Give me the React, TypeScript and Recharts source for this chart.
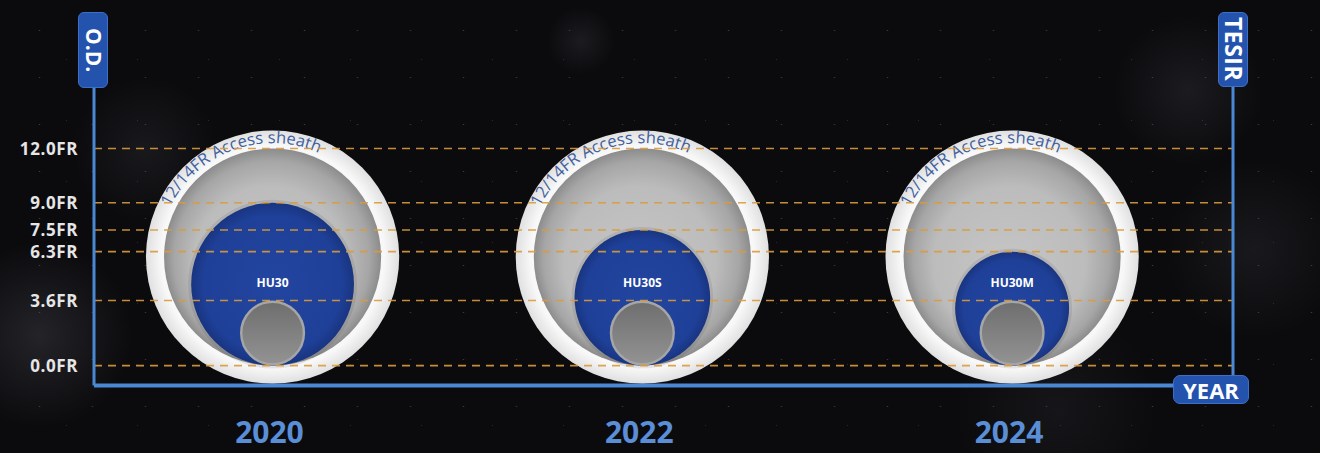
import React from 'react'
import { ComposedChart, Bar, XAxis, YAxis, ReferenceLine } from 'recharts'

// values (French gauge)
const YEARS = ['2020', '2022', '2024']
const SCOPES = ['HU30', 'HU30S', 'HU30M']
const SCOPE_OD = [9.0, 7.5, 6.3]
const SHEATH_ID = [12, 12, 12]
const SHEATH_OD = [14, 14, 14]
const CHANNEL = [3.6, 3.6, 3.6]
const OD_TICKS = [0, 3.6, 6.3, 7.5, 9.0, 12.0]
const TESIR_TICKS = [0, 25, 50, 75, 100]

const data = YEARS.map((year, i) => ({
  year,
  scope: SCOPES[i],
  od: SCOPE_OD[i],
  sheathId: SHEATH_ID[i],
  sheathOd: SHEATH_OD[i],
  channel: CHANNEL[i],
}))

const FONT = '"Open Sans", "Noto Sans", sans-serif'
const AXIS_BLUE = '#4b88d4'
const LABEL_FR = 4.6 // height of the scope name inside the blue disc

function disc(p: any) {
  const top = Math.min(p.y, p.y + p.height)
  const h = Math.abs(p.height)
  return { cx: p.x + p.width / 2, cy: top + h / 2, r: h / 2, bottom: top + h }
}

function RingShape(p: any) {
  const { cx, cy, r } = disc(p)
  const rt = r * 0.9
  const a0 = (206 * Math.PI) / 180
  const a1 = (300 * Math.PI) / 180
  const id = `arc-${p.index}`
  const d = `M ${cx + rt * Math.cos(a0)} ${cy + rt * Math.sin(a0)} A ${rt} ${rt} 0 0 1 ${cx + rt * Math.cos(a1)} ${cy + rt * Math.sin(a1)}`
  return (
    <g>
      <circle cx={cx} cy={cy} r={r} fill="url(#ringGrad)" />
      <path id={id} d={d} fill="none" />
      <text fontSize={16.5} fill="#40609f" fontFamily={FONT}>
        <textPath href={`#${id}`}>12/14FR Access sheath</textPath>
      </text>
    </g>
  )
}

function LumenShape(p: any) {
  const { cx, cy, r } = disc(p)
  return <circle cx={cx} cy={cy} r={r} fill="url(#lumenGrad)" />
}

function ScopeShape(p: any) {
  const { cx, cy, r, bottom } = disc(p)
  const pxPerFR = (2 * r) / p.payload.od
  return (
    <g>
      <circle cx={cx} cy={cy} r={r + 3} fill="rgba(0,0,0,0.08)" />
      <circle cx={cx} cy={cy} r={r} fill="url(#scopeGrad)" />
      <text x={cx} y={bottom - LABEL_FR * pxPerFR} dy="0.35em" textAnchor="middle" fill="#fff" fontSize={12} fontWeight={700} fontFamily={FONT}>
        {p.payload.scope}
      </text>
    </g>
  )
}

function ChannelShape(p: any) {
  const { cx, cy, r } = disc(p)
  return <circle cx={cx} cy={cy} r={r - 1.2} fill="url(#channelGrad)" stroke="#a6a6a6" strokeWidth={2.4} />
}

function YearTick({ x, y, payload }: any) {
  return (
    <text x={x - 3} y={y + 57.5} textAnchor="middle" fill="#5a8ed6" fontSize={30} fontWeight={700} fontFamily={FONT}>
      {payload.value}
    </text>
  )
}

const boxStyle: React.CSSProperties = {
  position: 'absolute',
  background: '#2453ae',
  border: '1.5px solid #3c70c8',
  boxSizing: 'border-box',
  color: '#fff',
  fontFamily: FONT,
  fontWeight: 700,
  display: 'flex',
  alignItems: 'center',
  justifyContent: 'center',
}

const xPad = { left: -6.4, right: 36.1 }

export default function App() {
  return (
    <div
      style={{
        position: 'absolute',
        left: 0,
        top: 0,
        width: 1320,
        height: 453,
        overflow: 'hidden',
        background:
          'radial-gradient(circle at 3% 74%, rgba(150,150,160,0.18), transparent 7%),' +
          'radial-gradient(circle at 11% 33%, rgba(150,150,160,0.10), transparent 6%),' +
          'radial-gradient(circle at 44% 9%, rgba(150,150,160,0.12), transparent 4%),' +
          'radial-gradient(circle at 90% 20%, rgba(150,150,160,0.12), transparent 6%),' +
          'radial-gradient(circle at 95% 55%, rgba(150,150,160,0.10), transparent 7%),' +
          'radial-gradient(circle at 80% 90%, rgba(150,150,160,0.08), transparent 9%),' +
          'radial-gradient(rgba(255,255,255,0.18) 0.6px, transparent 1.1px) 13px 7px/53px 47px,' +
          'radial-gradient(rgba(255,255,255,0.12) 0.5px, transparent 1px) 31px 29px/71px 61px,' +
          '#0b0b0e',
      }}
    >
      <ComposedChart width={1320} height={453} data={data} margin={{ top: 40, right: 0, bottom: 0, left: 0 }}>
        <defs>
          <radialGradient id="ringGrad" cx="50%" cy="50%" r="50%">
            <stop offset="0.88" stopColor="#f8f8f8" />
            <stop offset="1" stopColor="#e0e0e0" />
          </radialGradient>
          <radialGradient id="lumenGrad" cx="50%" cy="50%" r="50%" fx="46%" fy="58%">
            <stop offset="0" stopColor="#c6c6c6" />
            <stop offset="0.7" stopColor="#bcbcbc" />
            <stop offset="0.9" stopColor="#a6a6a6" />
            <stop offset="1" stopColor="#8c8c8c" />
          </radialGradient>
          <radialGradient id="scopeGrad" cx="50%" cy="50%" r="50%">
            <stop offset="0" stopColor="#2245a0" />
            <stop offset="0.85" stopColor="#1f4098" />
            <stop offset="1" stopColor="#193581" />
          </radialGradient>
          <linearGradient id="channelGrad" x1="0" y1="0" x2="0" y2="1">
            <stop offset="0" stopColor="#6e6e6e" />
            <stop offset="1" stopColor="#939393" />
          </linearGradient>
        </defs>
        <XAxis
          xAxisId="ring"
          dataKey="year"
          padding={xPad}
          height={67.5}
          axisLine={{ stroke: AXIS_BLUE, strokeWidth: 4 }}
          tickLine={false}
          tickSize={0}
          tickMargin={0}
          tick={<YearTick />}
          interval={0}
        />
        <XAxis xAxisId="lumen" dataKey="year" padding={xPad} orientation="top" height={0} hide />
        <XAxis xAxisId="scope" dataKey="year" padding={xPad} orientation="top" height={0} hide />
        <XAxis xAxisId="channel" dataKey="year" padding={xPad} orientation="top" height={0} hide />
        <YAxis
          yAxisId="od"
          type="number"
          domain={[-1.1, 18]}
          ticks={OD_TICKS}
          interval={0}
          width={94}
          axisLine={{ stroke: AXIS_BLUE, strokeWidth: 3 }}
          tickLine={false}
          tickSize={0}
          tickMargin={16}
          tickFormatter={(v: number) => `${v.toFixed(1)}FR`}
          tick={{ fill: '#e6e6e6', fontSize: 17, fontWeight: 700, fontFamily: FONT, letterSpacing: 0.6 }}
        />
        <YAxis
          yAxisId="tesir"
          orientation="right"
          type="number"
          domain={[-8.1, 101.3]}
          ticks={TESIR_TICKS}
          interval={0}
          width={87}
          axisLine={{ stroke: AXIS_BLUE, strokeWidth: 3 }}
          tickLine={false}
          tickSize={0}
          tickMargin={35}
          tickFormatter={(v: number) => `${v}%`}
          tick={{ fill: '#e3b425', fontSize: 17, fontWeight: 700, fontFamily: FONT, textAnchor: 'start' }}
        />
        <Bar
          xAxisId="ring"
          yAxisId="od"
          dataKey={(d: any) => [d.sheathId / 2 - d.sheathOd / 2, d.sheathId / 2 + d.sheathOd / 2]}
          shape={RingShape}
          isAnimationActive={false}
        />
        <Bar xAxisId="lumen" yAxisId="od" dataKey={(d: any) => [0, d.sheathId]} shape={LumenShape} isAnimationActive={false} />
        <Bar xAxisId="scope" yAxisId="od" dataKey={(d: any) => [0, d.od]} shape={ScopeShape} isAnimationActive={false} />
        <Bar xAxisId="channel" yAxisId="od" dataKey={(d: any) => [0, d.channel]} shape={ChannelShape} isAnimationActive={false} />
        {OD_TICKS.map((v) => (
          <ReferenceLine
            key={v}
            xAxisId="ring"
            yAxisId="od"
            y={v}
            stroke="#d99b3c"
            strokeWidth={1.6}
            strokeDasharray="8 6"
            strokeOpacity={0.9}
          />
        ))}
      </ComposedChart>
      <div style={{ ...boxStyle, left: 78, top: 12, width: 30, height: 76, borderRadius: 6 }}>
        <span style={{ writingMode: 'vertical-rl', fontSize: 21, lineHeight: 1 }}>O.D.</span>
      </div>
      <div style={{ ...boxStyle, left: 1218, top: 12, width: 30, height: 75, borderRadius: 6 }}>
        <span style={{ writingMode: 'vertical-rl', fontSize: 23, lineHeight: 1, letterSpacing: 0.5 }}>TESIR</span>
      </div>
      <div style={{ ...boxStyle, left: 1173, top: 375, width: 76, height: 29, borderRadius: 7, fontSize: 22 }}>
        YEAR
      </div>
    </div>
  )
}
